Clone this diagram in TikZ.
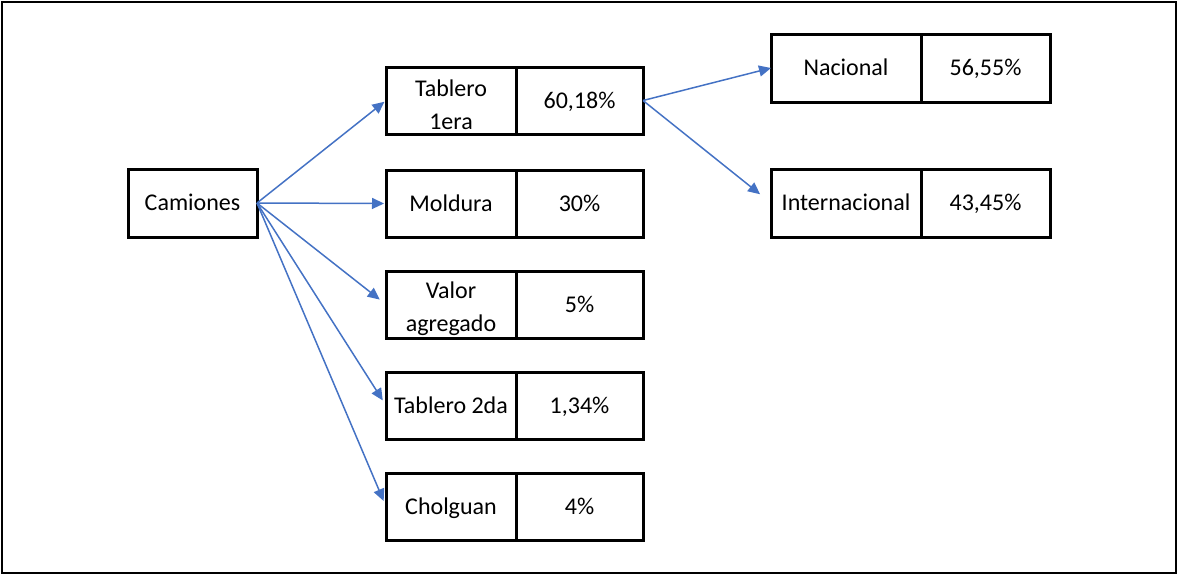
\documentclass[tikz,border=0pt]{standalone}
\usepackage{fontspec}
\setmainfont{Carlito}
\usetikzlibrary{positioning,arrows.meta}
\definecolor{arrowblue}{RGB}{68,114,196}
\newcommand{\toplift}{\rule{0pt}{12.5pt}}

\begin{document}
\begin{tikzpicture}[x=0.5pt,y=-0.5pt,
  box_base/.style={
           rectangle,
           draw=black,
           line width=1.5pt,
           minimum height=33.5pt,
           inner sep=1pt,
           outer sep=0pt,
           align=center,
         font=\fontsize{12}{16.5}\selectfont},
  cell/.style={box_base,text height=9.4pt,text depth=1.8pt},
  name_cell/.style={cell,minimum width=65pt},
  name_two/.style={box_base,minimum width=65pt},
  val_cell/.style={cell,minimum width=63.5pt},
  wide_cell/.style={cell,minimum width=75pt},
  blue_arrow/.style={
           -{Triangle[length=6pt,width=5.5pt]},
           line width=0.75pt,
         arrowblue}]

  \useasboundingbox (0,0) rectangle (1178,575);
  \draw[line width=1.2pt] (2,2) rectangle (1176,573);

  \path (192.5,203) node(cam) [cell,minimum width=64.5pt,minimum height=34pt] {Camiones}
  (451,100.5) node(tab1) [name_two] {\toplift Tablero\\1era}
  (451,203.5) node(mol) [name_cell] {Moldura}
  (451,304.5) node(val) [name_two] {\toplift Valor\\agregado}
  (451,405.5) node(tab2) [name_cell] {Tablero 2da}
  (451,506.5) node(cho) [name_cell] {Cholguan}
  (846,68) node(nac) [wide_cell,minimum height=34pt] {Nacional}
  (846,203) node(inter) [wide_cell,minimum height=34pt] {Internacional};

  \node(tab1v) [val_cell,right=0pt of tab1] {60,18\%};
  \node(molv) [val_cell,right=0pt of mol] {30\%};
  \node(valv) [val_cell,right=0pt of val] {5\%};
  \node(tab2v) [val_cell,right=0pt of tab2] {1,34\%};
  \node(chov) [val_cell,right=0pt of cho] {4\%};
  \node(nacv) [cell,minimum width=64.5pt,minimum height=34pt,right=0pt of nac] {56,55\%};
  \node(interv) [cell,minimum width=64.5pt,minimum height=34pt,right=0pt of inter] {43,45\%};

  %\draw[blue_arrow] (cam.east) -- (tab1.west);
  \path (cam.east) edge[blue_arrow,shorten >=1pt] (tab1.west)
  (cam.east) edge[blue_arrow,shorten >=1pt] (mol.west)
  (cam.east) edge[blue_arrow,shorten >=4pt] (val.west)
  (cam.east) edge[blue_arrow,shorten >=3pt] (tab2.west)
  (cam.east) edge[blue_arrow,shorten >=3pt] (cho.west)
  (tab1v.east) edge[blue_arrow] (nac.west)
  (tab1v.east) edge[blue_arrow,shorten >=7pt] (inter.west)
  ;

\end{tikzpicture}
\end{document}
